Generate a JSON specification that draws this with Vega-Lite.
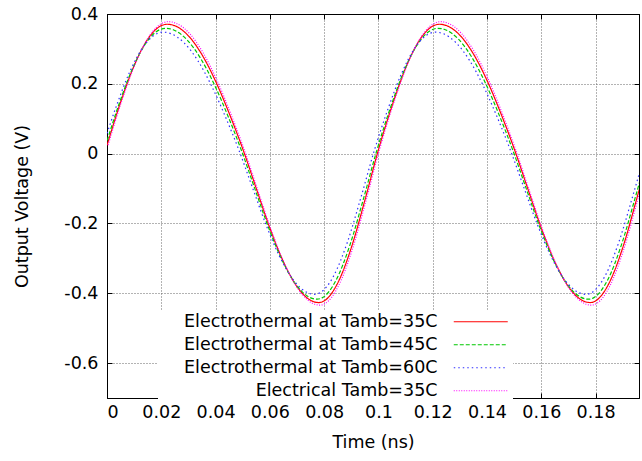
{
"$schema":"https://vega.github.io/schema/vega-lite/v6.json",
"width":532,"height":384,
"autosize":{"type":"none"},
"padding":{"left":107,"top":14,"right":3,"bottom":63},
"background":"white",
"config":{
 "view":{"stroke":"black","strokeWidth":1},
 "font":"DejaVu Sans",
 "axis":{"labelFont":"DejaVu Sans","labelFontSize":17.5,"labelColor":"black","titleFont":"DejaVu Sans","titleFontSize":17.5,"titleFontWeight":"normal","titleColor":"black","tickColor":"black","tickSize":-5,"domain":true,"domainColor":"black","gridColor":"#666","gridDash":[1,2],"gridWidth":1,"zindex":1},
 "legend":{"orient":"none","legendX":51,"legendY":297,"symbolType":"M-5,0L5,0","symbolSize":116.6,"symbolStrokeWidth":1.2,"symbolFillColor":"transparent","labelAlign":"right","labelOffset":-52,"symbolOffset":312,"labelLimit":400,"labelFont":"DejaVu Sans","labelFontSize":17.5,"labelColor":"black","rowPadding":4,"padding":2,"fillColor":"white","zindex":0}
},
"data":{"values":[
{"s":"a","t":0,"v":0.0236},{"s":"a","t":0.005,"v":0.1469},{"s":"a","t":0.01,"v":0.2519},{"s":"a","t":0.015,"v":0.3278},{"s":"a","t":0.02,"v":0.3666},{"s":"a","t":0.0222,"v":0.3706},{"s":"a","t":0.025,"v":0.3663},{"s":"a","t":0.03,"v":0.3374},{"s":"a","t":0.035,"v":0.2833},{"s":"a","t":0.04,"v":0.2076},{"s":"a","t":0.045,"v":0.1157},{"s":"a","t":0.05,"v":0.0139},{"s":"a","t":0.055,"v":-0.0998},{"s":"a","t":0.06,"v":-0.2132},{"s":"a","t":0.065,"v":-0.3098},{"s":"a","t":0.07,"v":-0.381},{"s":"a","t":0.075,"v":-0.4201},{"s":"a","t":0.078,"v":-0.4266},{"s":"a","t":0.08,"v":-0.4219},{"s":"a","t":0.085,"v":-0.3706},{"s":"a","t":0.09,"v":-0.2696},{"s":"a","t":0.095,"v":-0.1337},{"s":"a","t":0.1,"v":0.0111},{"s":"a","t":0.105,"v":0.1365},{"s":"a","t":0.11,"v":0.2445},{"s":"a","t":0.115,"v":0.3235},{"s":"a","t":0.12,"v":0.3653},{"s":"a","t":0.1225,"v":0.3706},{"s":"a","t":0.125,"v":0.3671},{"s":"a","t":0.13,"v":0.3392},{"s":"a","t":0.135,"v":0.2855},{"s":"a","t":0.14,"v":0.2098},{"s":"a","t":0.145,"v":0.1171},{"s":"a","t":0.15,"v":0.0144},{"s":"a","t":0.155,"v":-0.0998},{"s":"a","t":0.16,"v":-0.2132},{"s":"a","t":0.165,"v":-0.3098},{"s":"a","t":0.17,"v":-0.381},{"s":"a","t":0.175,"v":-0.4201},{"s":"a","t":0.178,"v":-0.4266},{"s":"a","t":0.18,"v":-0.4219},{"s":"a","t":0.185,"v":-0.3706},{"s":"a","t":0.19,"v":-0.2696},{"s":"a","t":0.195,"v":-0.1337},{"s":"a","t":0.2,"v":0.0111},
{"s":"b","t":-0.0006,"v":0.0212},{"s":"b","t":0.0044,"v":0.1413},{"s":"b","t":0.0094,"v":0.2435},{"s":"b","t":0.0144,"v":0.3174},{"s":"b","t":0.0194,"v":0.3551},{"s":"b","t":0.0216,"v":0.359},{"s":"b","t":0.0244,"v":0.3548},{"s":"b","t":0.0294,"v":0.3267},{"s":"b","t":0.0344,"v":0.274},{"s":"b","t":0.0394,"v":0.2003},{"s":"b","t":0.0444,"v":0.1109},{"s":"b","t":0.0494,"v":0.0118},{"s":"b","t":0.0544,"v":-0.0989},{"s":"b","t":0.0594,"v":-0.2093},{"s":"b","t":0.0644,"v":-0.3034},{"s":"b","t":0.0694,"v":-0.3727},{"s":"b","t":0.0744,"v":-0.4106},{"s":"b","t":0.0774,"v":-0.417},{"s":"b","t":0.0794,"v":-0.4125},{"s":"b","t":0.0844,"v":-0.3625},{"s":"b","t":0.0894,"v":-0.2642},{"s":"b","t":0.0944,"v":-0.1319},{"s":"b","t":0.0994,"v":0.009},{"s":"b","t":0.1044,"v":0.1311},{"s":"b","t":0.1094,"v":0.2363},{"s":"b","t":0.1144,"v":0.3131},{"s":"b","t":0.1194,"v":0.3538},{"s":"b","t":0.1219,"v":0.359},{"s":"b","t":0.1244,"v":0.3556},{"s":"b","t":0.1294,"v":0.3285},{"s":"b","t":0.1344,"v":0.2762},{"s":"b","t":0.1394,"v":0.2024},{"s":"b","t":0.1444,"v":0.1123},{"s":"b","t":0.1494,"v":0.0122},{"s":"b","t":0.1544,"v":-0.0989},{"s":"b","t":0.1594,"v":-0.2093},{"s":"b","t":0.1644,"v":-0.3034},{"s":"b","t":0.1694,"v":-0.3727},{"s":"b","t":0.1744,"v":-0.4106},{"s":"b","t":0.1774,"v":-0.417},{"s":"b","t":0.1794,"v":-0.4125},{"s":"b","t":0.1844,"v":-0.3625},{"s":"b","t":0.1894,"v":-0.2642},{"s":"b","t":0.1944,"v":-0.1319},{"s":"b","t":0.1994,"v":0.009},
{"s":"c","t":-0.0015,"v":0.0211},{"s":"c","t":0.0035,"v":0.1373},{"s":"c","t":0.0085,"v":0.2362},{"s":"c","t":0.0135,"v":0.3077},{"s":"c","t":0.0185,"v":0.3442},{"s":"c","t":0.0207,"v":0.348},{"s":"c","t":0.0235,"v":0.3439},{"s":"c","t":0.0285,"v":0.3167},{"s":"c","t":0.0335,"v":0.2657},{"s":"c","t":0.0385,"v":0.1945},{"s":"c","t":0.0435,"v":0.1079},{"s":"c","t":0.0485,"v":0.012},{"s":"c","t":0.0535,"v":-0.0952},{"s":"c","t":0.0585,"v":-0.202},{"s":"c","t":0.0635,"v":-0.293},{"s":"c","t":0.0685,"v":-0.3601},{"s":"c","t":0.0735,"v":-0.3968},{"s":"c","t":0.0765,"v":-0.403},{"s":"c","t":0.0785,"v":-0.3986},{"s":"c","t":0.0835,"v":-0.3503},{"s":"c","t":0.0885,"v":-0.2551},{"s":"c","t":0.0935,"v":-0.127},{"s":"c","t":0.0985,"v":0.0093},{"s":"c","t":0.1035,"v":0.1275},{"s":"c","t":0.1085,"v":0.2292},{"s":"c","t":0.1135,"v":0.3036},{"s":"c","t":0.1185,"v":0.343},{"s":"c","t":0.121,"v":0.348},{"s":"c","t":0.1235,"v":0.3447},{"s":"c","t":0.1285,"v":0.3184},{"s":"c","t":0.1335,"v":0.2678},{"s":"c","t":0.1385,"v":0.1965},{"s":"c","t":0.1435,"v":0.1092},{"s":"c","t":0.1485,"v":0.0124},{"s":"c","t":0.1535,"v":-0.0952},{"s":"c","t":0.1585,"v":-0.202},{"s":"c","t":0.1635,"v":-0.293},{"s":"c","t":0.1685,"v":-0.3601},{"s":"c","t":0.1735,"v":-0.3968},{"s":"c","t":0.1765,"v":-0.403},{"s":"c","t":0.1785,"v":-0.3986},{"s":"c","t":0.1835,"v":-0.3503},{"s":"c","t":0.1885,"v":-0.2551},{"s":"c","t":0.1935,"v":-0.127},{"s":"c","t":0.1985,"v":0.0093},
{"s":"d","t":0.0004,"v":0.0245},{"s":"d","t":0.0054,"v":0.1502},{"s":"d","t":0.0104,"v":0.2571},{"s":"d","t":0.0154,"v":0.3344},{"s":"d","t":0.0204,"v":0.3739},{"s":"d","t":0.0226,"v":0.378},{"s":"d","t":0.0254,"v":0.3736},{"s":"d","t":0.0304,"v":0.3442},{"s":"d","t":0.0354,"v":0.289},{"s":"d","t":0.0404,"v":0.212},{"s":"d","t":0.0454,"v":0.1184},{"s":"d","t":0.0504,"v":0.0147},{"s":"d","t":0.0554,"v":-0.1012},{"s":"d","t":0.0604,"v":-0.2167},{"s":"d","t":0.0654,"v":-0.3151},{"s":"d","t":0.0704,"v":-0.3876},{"s":"d","t":0.0754,"v":-0.4273},{"s":"d","t":0.0784,"v":-0.434},{"s":"d","t":0.0804,"v":-0.4292},{"s":"d","t":0.0854,"v":-0.377},{"s":"d","t":0.0904,"v":-0.2741},{"s":"d","t":0.0954,"v":-0.1356},{"s":"d","t":0.1004,"v":0.0118},{"s":"d","t":0.1054,"v":0.1396},{"s":"d","t":0.1104,"v":0.2496},{"s":"d","t":0.1154,"v":0.33},{"s":"d","t":0.1204,"v":0.3726},{"s":"d","t":0.1229,"v":0.378},{"s":"d","t":0.1254,"v":0.3744},{"s":"d","t":0.1304,"v":0.346},{"s":"d","t":0.1354,"v":0.2913},{"s":"d","t":0.1404,"v":0.2142},{"s":"d","t":0.1454,"v":0.1198},{"s":"d","t":0.1504,"v":0.0152},{"s":"d","t":0.1554,"v":-0.1012},{"s":"d","t":0.1604,"v":-0.2167},{"s":"d","t":0.1654,"v":-0.3151},{"s":"d","t":0.1704,"v":-0.3876},{"s":"d","t":0.1754,"v":-0.4273},{"s":"d","t":0.1784,"v":-0.434},{"s":"d","t":0.1804,"v":-0.4292},{"s":"d","t":0.1854,"v":-0.377},{"s":"d","t":0.1904,"v":-0.2741},{"s":"d","t":0.1954,"v":-0.1356},{"s":"d","t":0.2004,"v":0.0118}
]},
"layer":[
 {"mark":{"type":"line","interpolate":"monotone","clip":true,"strokeWidth":1.2},
  "encoding":{
   "x":{"field":"t","type":"quantitative","scale":{"domain":[0,0.196],"nice":false,"zero":false},
        "axis":{"orient":"bottom","values":[0,0.02,0.04,0.06,0.08,0.1,0.12,0.14,0.16,0.18],"labelExpr":"datum.value + ''","title":"Time (ns)","labelPadding":10,"titlePadding":13,"grid":true}},
   "y":{"field":"v","type":"quantitative","scale":{"domain":[-0.7,0.4],"nice":false,"zero":false},
        "axis":{"orient":"left","values":[-0.6,-0.4,-0.2,0,0.2,0.4],"labelExpr":"datum.value + ''","title":"Output Voltage (V)","labelPadding":14,"titlePadding":32,"grid":true}},
   "color":{"field":"s","type":"nominal","scale":{"domain":["a","b","c","d"],"range":["#ff0000","#00c800","#3030ff","#ff00ff"]},
        "legend":{"title":null,"labelExpr":"datum.value == 'a' ? 'Electrothermal at Tamb=35C' : datum.value == 'b' ? 'Electrothermal at Tamb=45C' : datum.value == 'c' ? 'Electrothermal at Tamb=60C' : 'Electrical Tamb=35C'"}},
   "strokeDash":{"field":"s","type":"nominal","scale":{"domain":["a","b","c","d"],"range":[[1,0],[4,2],[1.5,3],[1,1.5]]},
        "legend":{"title":null,"labelExpr":"datum.value == 'a' ? 'Electrothermal at Tamb=35C' : datum.value == 'b' ? 'Electrothermal at Tamb=45C' : datum.value == 'c' ? 'Electrothermal at Tamb=60C' : 'Electrical Tamb=35C'"}}
  }},
 {"mark":{"type":"point","opacity":0},
  "encoding":{
   "x":{"field":"t","type":"quantitative","axis":{"orient":"top","values":[0,0.02,0.04,0.06,0.08,0.1,0.12,0.14,0.16,0.18],"labels":false,"title":null,"grid":false}},
   "y":{"field":"v","type":"quantitative","axis":{"orient":"right","values":[-0.6,-0.4,-0.2,0,0.2,0.4],"labels":false,"title":null,"grid":false}}
  }}
],
"resolve":{"axis":{"x":"independent","y":"independent"}}
}
